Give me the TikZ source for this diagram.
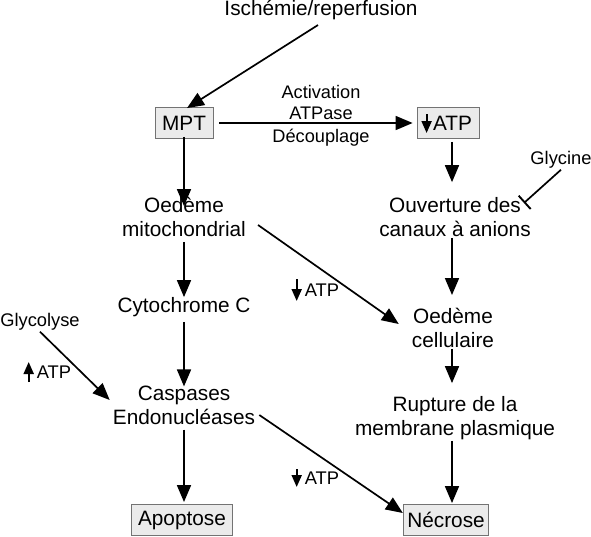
\documentclass[tikz,border=0pt]{standalone}
\usepackage{fontspec}
\setmainfont{Liberation Sans}
\usetikzlibrary{arrows.meta}
\tikzset{
  lbl/.style={align=center, inner sep=3pt, font=\fontsize{20.8}{24}\selectfont},
  elbl/.style={inner sep=1pt, font=\fontsize{18.2}{21}\selectfont},
  slbl/.style={inner sep=1pt, font=\fontsize{18.3}{21}\selectfont},
  boxn/.style={lbl, draw=black!55, fill=black!8, line width=0.9pt, minimum height=31pt, inner xsep=7pt},
  arr/.style={line width=1.7pt, -{Triangle[length=17pt,width=14pt]}},
  sarr/.style={line width=2pt, -{Triangle[length=12pt,width=10pt]}},
  inh/.style={line width=1.7pt, -{Bar[width=18pt,line width=1.9pt]}}
}
\begin{document}
\begin{tikzpicture}[x=1pt,y=-1pt]
\useasboundingbox (0,0) rectangle (591,536);
% nodes
\node[lbl] (is) at (321,10) {Ischémie/reperfusion};
\node[boxn] (mpt) at (184,123) {MPT};
\node[boxn] (atpb) at (448,123) {\hspace{9pt}ATP};
\node[elbl] (act) at (321,92) {Activation};
\node[elbl] (atpase) at (321,113) {ATPase};
\node[elbl] (dec) at (321,138) {Découplage};
\node[lbl] (om) at (184,217) {Oedème\\mitochondrial};
\node[lbl] (ou) at (455,217) {Ouverture des\\canaux à anions};
\node[slbl] (gly) at (561,160) {Glycine};
\node[lbl] (cy) at (184,307) {Cytochrome C};
\node[lbl] (oc) at (453,328) {Oedème\\cellulaire};
\node[slbl] (atp1) at (322,290) {ATP};
\node[slbl] (glc) at (40,322) {Glycolyse};
\node[slbl] (atp2) at (54,372) {ATP};
\node[lbl] (cs) at (184,405) {Caspases\\Endonucléases};
\node[lbl] (ru) at (455,418) {Rupture de la\\membrane plasmique};
\node[slbl] (atp3) at (322,478) {ATP};
\node[boxn] (apo) at (182,520) {Apoptose};
\node[boxn, inner xsep=4pt] (nec) at (446,520) {Nécrose};
% small arrows near ATP
\draw[sarr] ([shift={(10,-9)}]atpb.west) -- ([shift={(10,10)}]atpb.west);
\draw[sarr] ([shift={(-7,-11)}]atp1.west) -- ([shift={(-7,11)}]atp1.west);
\draw[sarr] ([shift={(-7,10)}]atp2.west) -- ([shift={(-7,-10)}]atp2.west);
\draw[sarr] ([shift={(-7,-9)}]atp3.west) -- ([shift={(-7,9)}]atp3.west);
% connectors
\draw[arr] ([shift={(-3,2)}]is.south) -- ([shift={(3,1)}]mpt.north);
\draw[arr] ([xshift=6pt]mpt.east) -- ([xshift=-4pt]atpb.west |- mpt.east);
\draw[arr] ([yshift=2pt]mpt.south) -- ([yshift=-12pt]om.north);
\draw[arr] ([shift={(4,3)}]atpb.south) -- ([shift={(-3,-12)}]ou.north);
\draw[inh] (gly.south) -- ([shift={(-10,-14)}]ou.east);
\draw[arr] ([yshift=-2pt]om.south) -- ([yshift=-3pt]cy.north);
\draw[arr] ([shift={(-3,-2)}]ou.south) -- ([shift={(-1,-10)}]oc.north);
\draw[arr] ([shift={(9,8)}]om.east) -- ([shift={(-10,-4)}]oc.west);
\draw[arr] ([yshift=-2pt]cy.south) -- ([yshift=-4pt]cs.north);
\draw[arr] ([shift={(-1,-2)}]oc.south) -- ([shift={(-3,-10)}]ru.north);
\draw[arr] (glc.south) -- ([shift={(0,-5)}]cs.west);
\draw[arr] ([shift={(1,10)}]cs.east) -- ([shift={(0,-7)}]nec.west);
\draw[arr] ([yshift=-2pt]cs.south) -- ([shift={(2,-2)}]apo.north);
\draw[arr] ([shift={(-3,-2)}]ru.south) -- ([shift={(6,-1)}]nec.north);
\end{tikzpicture}
\end{document}
